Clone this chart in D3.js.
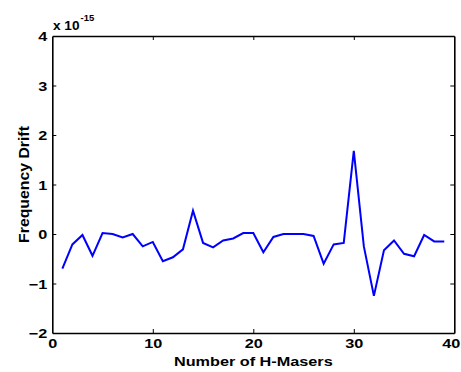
<!DOCTYPE html>
<html>
<head>
<meta charset="utf-8">
<script src="https://cdn.jsdelivr.net/npm/d3@7"></script>
<style>
  html, body { margin: 0; padding: 0; background: #fff; }
  text { font-family: "Liberation Sans", Arial, sans-serif; font-weight: bold; }
</style>
</head>
<body>
<svg id="chart" width="461" height="372"></svg>
<script>
const maserIds = d3.range(1, 40);
const driftValues = [
  -0.70, -0.21, -0.02, -0.44, 0.02, 0.00, -0.07, 0.00, -0.25, -0.16,
  -0.55, -0.47, -0.31, 0.47, -0.18, -0.27, -0.13, -0.09, 0.02, 0.02,
  -0.37, -0.06, 0.00, 0.00, 0.00, -0.04, -0.60, -0.21, -0.18, 1.68,
  -0.25, -1.25, -0.33, -0.13, -0.40, -0.45, -0.02, -0.15, -0.15
];
const xTicks = [0, 10, 20, 30, 40];
const yTicks = [-2, -1, 0, 1, 2, 3, 4];
const xLabel = "Number of H-Masers";
const yLabel = "Frequency Drift";

const mLeft = 52.3, mRight = 454.3, mTop = 36, mBottom = 333;
const stretch = 1.25;
const svg = d3.select("#chart");
const x = d3.scaleLinear().domain([0, 40]).range([mLeft, mRight]);
const y = d3.scaleLinear().domain([-2, 4]).range([mBottom, mTop]);

const data = maserIds.map((id, i) => ({ id, v: driftValues[i] }));

const tick = 4;
const fmt = d3.format("d");
const gB = svg.append("g").attr("transform", `translate(0,${mBottom})`)
  .call(d3.axisBottom(x).tickValues(xTicks).tickFormat(fmt).tickSizeInner(-tick).tickSizeOuter(0).tickPadding(6));
const gT = svg.append("g").attr("transform", `translate(0,${mTop})`)
  .call(d3.axisTop(x).tickValues(xTicks).tickSizeInner(-tick).tickSizeOuter(0).tickFormat(""));
const gL = svg.append("g").attr("transform", `translate(${mLeft},0)`)
  .call(d3.axisLeft(y).tickValues(yTicks).tickFormat(fmt).tickSizeInner(-tick).tickSizeOuter(0).tickPadding(5));
const gR = svg.append("g").attr("transform", `translate(${mRight},0)`)
  .call(d3.axisRight(y).tickValues(yTicks).tickSizeInner(-tick).tickSizeOuter(0).tickFormat(""));

[gB, gT, gL, gR].forEach(g => {
  g.select(".domain").attr("stroke", "#000").attr("stroke-width", 1.6);
  g.selectAll(".tick line").attr("stroke", "#000").attr("stroke-width", 1);
  g.selectAll(".tick text").attr("fill", "#000").style("font-size", "13px")
    .style("font-family", "'Liberation Sans', Arial, sans-serif").style("font-weight", "bold");
});
gB.selectAll(".tick line").filter(d => d === 0 || d === 40).remove();
gT.selectAll(".tick line").filter(d => d === 0 || d === 40).remove();
gL.selectAll(".tick line").filter(d => d === -2 || d === 4).remove();
gR.selectAll(".tick line").filter(d => d === -2 || d === 4).remove();
gB.selectAll(".tick text").attr("dy", "0.71em")
  .attr("x", d => d === 40 ? -3.5 / stretch : 0)
  .attr("transform", `scale(${stretch},1)`);
gL.selectAll(".tick text").attr("dy", "0.36em")
  .attr("x", -5 / stretch).attr("transform", `scale(${stretch},1)`);

svg.append("path")
  .datum(data)
  .attr("fill", "none")
  .attr("stroke", "#0000ff")
  .attr("stroke-width", 2)
  .attr("stroke-linejoin", "miter")
  .attr("d", d3.line().x(d => x(d.id)).y(d => y(d.v)));

const ex = svg.append("text").attr("transform", "translate(53,30) scale(1.05,1)")
  .style("font-size", "13px").attr("fill", "#000");
ex.append("tspan").text("x 10");
ex.append("tspan").attr("dx", 1).attr("dy", -9).style("font-size", "9px").text("-15");

svg.append("text").attr("transform", `translate(${(mLeft + mRight) / 2},366) scale(${stretch},1)`)
  .attr("text-anchor", "middle").style("font-size", "13px").attr("fill", "#000").text(xLabel);
svg.append("text").attr("transform", `translate(29,${(mTop + mBottom) / 2}) rotate(-90) scale(1.13,1)`)
  .attr("text-anchor", "middle").style("font-size", "14px").attr("fill", "#000").text(yLabel);
</script>
</body>
</html>
